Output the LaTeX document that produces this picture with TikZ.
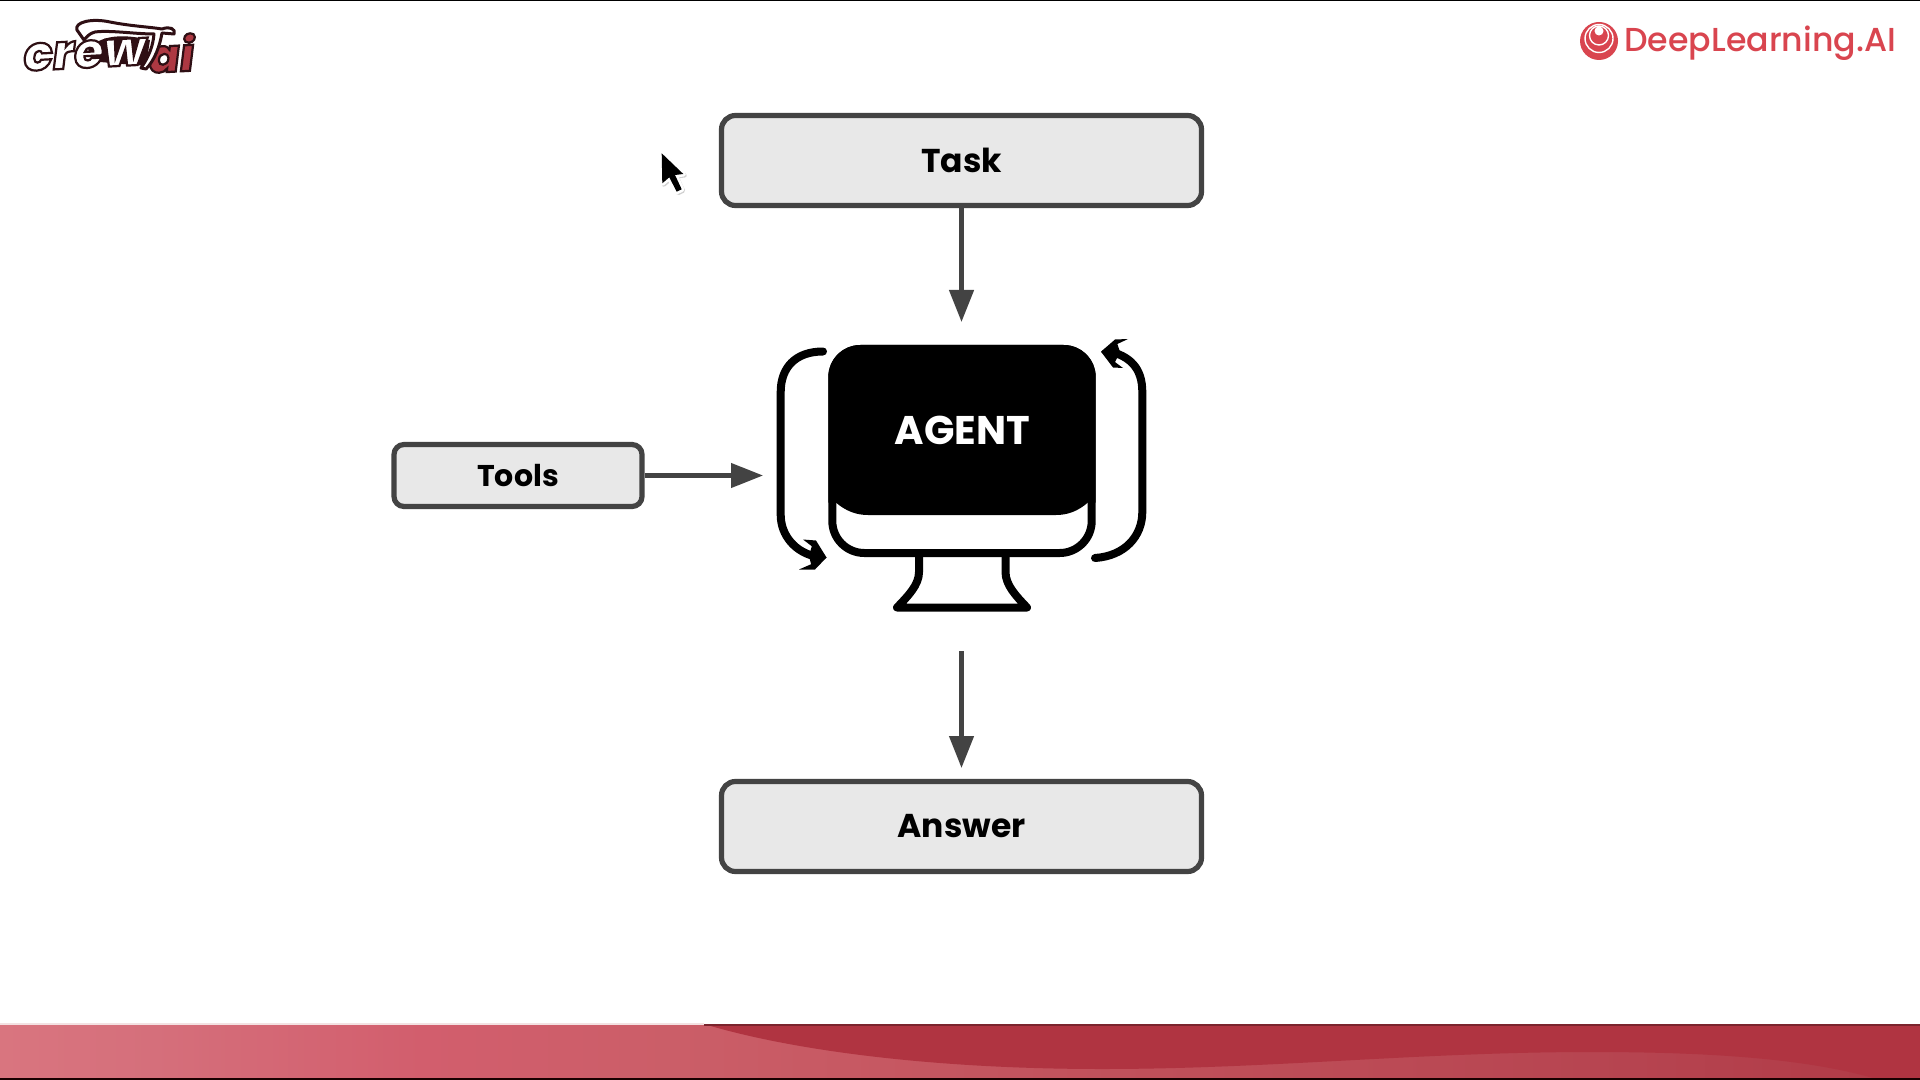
\documentclass[tikz,border=0pt]{standalone}
\usepackage{fontspec}
\usetikzlibrary{arrows.meta}
\setmainfont{Poppins}
\newfontfamily\boldfont{Poppins}[UprightFont=* Bold]
\newfontfamily\medfont{Poppins}[UprightFont=* Medium]
\newfontfamily\logofont{Poppins}[UprightFont=* ExtraBold Italic]
\definecolor{boxfill}{HTML}{E8E8E8}
\definecolor{boxline}{HTML}{434343}
\definecolor{dlred}{HTML}{D9454F}
\definecolor{bannerdark}{HTML}{B03441}
\definecolor{crewdark}{HTML}{2E0F14}
\definecolor{crewred}{HTML}{AD3842}
\definecolor{bsa}{HTML}{D9757F}
\definecolor{bsb}{HTML}{D56F7B}
\definecolor{bsc}{HTML}{D25E6D}
\definecolor{bsd}{HTML}{CB5E68}
\definecolor{bse}{HTML}{C0505A}
\definecolor{bsf}{HTML}{B64450}
\definecolor{bsg}{HTML}{B03A46}
\pgfdeclarehorizontalshading{bannershade}{100bp}{
  color(0bp)=(bsa);
  color(25bp)=(bsa);
  color(29bp)=(bsb);
  color(36bp)=(bsc);
  color(42.5bp)=(bsd);
  color(55bp)=(bse);
  color(67.5bp)=(bsf);
  color(75bp)=(bsg);
  color(100bp)=(bsg)}
\tikzset{
  flowbox/.style={draw=boxline,fill=boxfill,line width=2.6pt,rounded corners=7pt,
    font=\boldfont\fontsize{16.5pt}{20pt}\selectfont,text=black,inner sep=0pt,
    minimum width=240pt,minimum height=45pt},
  flowarrow/.style={draw=boxline,line width=2.2pt,
    -{Triangle[length=16pt,width=12pt,fill=boxline]}},
  monitor/.style={draw=black,line width=4pt,line join=round,line cap=round},
  loopline/.style={draw=black,line width=4pt,line cap=round}
}
\begin{document}
\begin{tikzpicture}[x=0.5pt,y=-0.5pt]
\useasboundingbox (0,0) rectangle (1920,1080);
\fill[white] (0,0) rectangle (1920,1080);
% frame strips
\fill[black] (0,0) rectangle (1920,1.5);
% banner
\shade[shading=bannershade] (0,1024) rectangle (1920,1078);
\fill[bannerdark] (704,1024) .. controls (790,1050) and (930,1069) .. (1102,1069)
  .. controls (1270,1069) and (1420,1052) .. (1592,1052)
  .. controls (1720,1052) and (1810,1060) .. (1873,1078) -- (1920,1078) -- (1920,1024) -- cycle;
\fill[bannerdark!70!black] (704,1024) rectangle (1920,1025.5);
\fill[bannerdark!15] (0,1023) rectangle (704,1024.5);
\fill[black!90!red] (0,1078) rectangle (1920,1080);
% boxes
\node[flowbox] (task) at (961.5,160.5) {Task};
\node[flowbox] (answer) at (961.5,826.5) {Answer};
\node[flowbox,minimum width=124pt,minimum height=31pt,rounded corners=5pt,
  font=\boldfont\fontsize{15pt}{19pt}\selectfont] (tools) at (518,475.5) {Tools};
% connector ends
\coordinate (agentIn) at (961.5,322);
\coordinate (agentSide) at (763,475.5);
\coordinate (agentOut) at (961.5,651);
\coordinate (answerIn) at (961.5,768);
\draw[flowarrow] (task.south) -- (agentIn);
\draw[flowarrow] (tools.east) -- (agentSide);
\draw[flowarrow] (agentOut) -- (answerIn);
% monitor
\draw[monitor,fill=white] (832.3,377) arc[start angle=180,end angle=270,radius=28]
  -- (1063.7,349) arc[start angle=270,end angle=360,radius=28]
  -- (1091.7,521) arc[start angle=0,end angle=90,radius=32]
  -- (864.3,553) arc[start angle=90,end angle=180,radius=32] -- cycle;
\fill[black] (828.3,377) arc[start angle=180,end angle=270,radius=32]
  -- (1063.7,345) arc[start angle=270,end angle=360,radius=32]
  -- (1095.7,502.7) -- (1087.7,502.7) .. controls (1078,511) and (1068,515) .. (1056,515)
  -- (868,515) .. controls (856,515) and (846,511) .. (836,502.7) -- (828.3,502.7) -- cycle;
\node[font=\boldfont\fontsize{20pt}{24pt}\selectfont,text=white,inner sep=0pt] (agent) at (962.5,430) {AGENT};
\draw[monitor] (919,557) -- (919,572) .. controls (919,585) and (908,596) .. (897,607.5)
  -- (1027,607.5) .. controls (1016,596) and (1005.5,585) .. (1005.5,572) -- (1005.5,557);
% loop arrows
\draw[loopline] (823,351.5) .. controls (795,351.5) and (780.7,368) .. (780.7,392)
  -- (780.7,515) .. controls (780.7,535) and (795,553) .. (818,557);
\fill[black] (826.5,557.5) -- (803,539.5) -- (816,540.5) -- cycle;
\fill[black] (826.5,557.5) -- (799,569.5) -- (815,569.5) -- cycle;
\fill[black] (826.5,557.5) -- (813,542) -- (809,556) -- (812,568) -- cycle;
\draw[loopline] (1095,558) .. controls (1125,556) and (1142.3,536) .. (1142.3,512)
  -- (1142.3,392) .. controls (1142.3,368) and (1130,356) .. (1108,351);
\fill[black] (1101,351.7) -- (1128,339) -- (1115,339.5) -- cycle;
\fill[black] (1101,351.7) -- (1123,368) -- (1113,367.5) -- cycle;
\fill[black] (1101,351.7) -- (1116,340) -- (1120,352) -- (1114,364) -- cycle;
% cursor
\draw[black!18,line width=2pt,line join=round,fill=black!18,shift={(1.5,1.5)}] (661.7,153.3) -- (662.3,183.3) -- (669.3,177.3) -- (676.7,191.7) -- (681.7,189.3) -- (675,175) -- (683.3,174) -- cycle;
\draw[white,line width=2.6pt,line join=round,fill=white] (661.7,153.3) -- (662.3,183.3) -- (669.3,177.3) -- (676.7,191.7) -- (681.7,189.3) -- (675,175) -- (683.3,174) -- cycle;
\fill[black] (661.7,153.3) -- (662.3,183.3) -- (669.3,177.3) -- (676.7,191.7) -- (681.7,189.3) -- (675,175) -- (683.3,174) -- cycle;
% DeepLearning.AI logo
\fill[dlred] (1599,41) circle[radius=19];
\draw[white,line width=0.7pt] (1599,38.5) circle[radius=14];
\draw[white,line width=0.7pt] (1599,35.5) circle[radius=9.5];
\fill[white] (1599,31) circle[radius=4.5];
\node[anchor=base west,inner sep=0pt,text=dlred,font=\medfont\fontsize{16.6pt}{22pt}\selectfont] (dltext) at (1624,52) {DeepLearning.AI};
% crewai logo
\fill[crewdark] (88,50) .. controls (100,34) and (125,34) .. (150,40) -- (146,66) -- (100,62) -- cycle;
\node[anchor=base west,inner sep=0pt,text=white,rotate=3,font=\logofont\fontsize{24pt}{28pt}\selectfont] (crewtext) at (24,71)
  {\special{pdf:code 2 Tr 1.1 w 0.18 0.06 0.08 RG}crew\special{pdf:code 0 Tr 0 w}};
\node[anchor=base west,inner sep=0pt,text=crewred,rotate=3,font=\logofont\fontsize{23pt}{28pt}\selectfont] (aitext) at (149,73)
  {\special{pdf:code 2 Tr 1.1 w 0.18 0.06 0.08 RG}ai\special{pdf:code 0 Tr 0 w}};
\draw[crewdark,line width=1.5pt,fill=white,line join=round] (77,30) .. controls (74,22) and (92,18) .. (110,22)
  .. controls (130,26) and (150,27) .. (162,29) .. controls (170,26) and (176,29) .. (174,34)
  -- (162,33) .. controls (160,45) and (155,60) .. (146,69) -- (141,68)
  .. controls (150,55) and (153,45) .. (154,34)
  .. controls (135,34) and (110,30) .. (95,32) .. controls (88,34) and (86,38) .. (84,40) -- cycle;
\end{tikzpicture}
\end{document}
